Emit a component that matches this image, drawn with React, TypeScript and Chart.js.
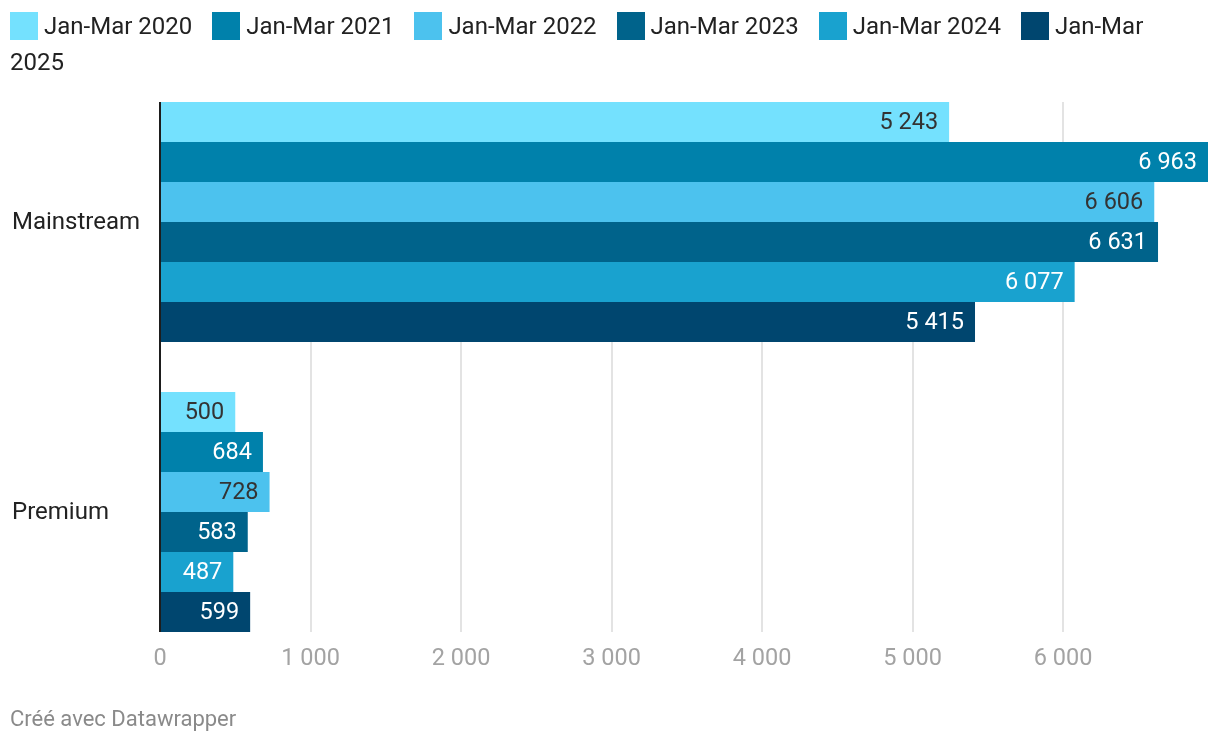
import React, { useEffect, useRef } from "react";
import { Chart, registerables } from "chart.js";

Chart.register(...registerables);

const categories = ["Mainstream", "Premium"];
const seriesLabels = ["Jan-Mar 2020", "Jan-Mar 2021", "Jan-Mar 2022", "Jan-Mar 2023", "Jan-Mar 2024", "Jan-Mar 2025"];
const mainstream = [5243, 6963, 6606, 6631, 6077, 5415];
const premium = [500, 684, 728, 583, 487, 599];
const colors = ["#74e1fe", "#0081ab", "#4cc2ee", "#00638b", "#19a2cf", "#00466f"];
const labelColors = ["#333333", "#ffffff", "#333333", "#ffffff", "#ffffff", "#ffffff"];
const xTicks = [0, 1000, 2000, 3000, 4000, 5000, 6000];
const xMax = 6963;

const FONT = "Roboto, 'Noto Sans', sans-serif";

function fmt(v: number): string {
  const s = String(Math.round(v));
  return s.replace(/\B(?=(\d{3})+(?!\d))/g, " ");
}

const drawPlugin = {
  id: "dwDraw",
  beforeDatasetsDraw(chart: any) {
    const ctx = chart.ctx;
    const x = chart.scales.x;
    const meta0 = chart.getDatasetMeta(0);
    const metaL = chart.getDatasetMeta(chart.data.datasets.length - 1);
    const top = meta0.data[0].y - meta0.data[0].height / 2;
    const bottom = metaL.data[metaL.data.length - 1].y + metaL.data[metaL.data.length - 1].height / 2;
    ctx.save();
    ctx.strokeStyle = "#e3e3e3";
    ctx.lineWidth = 2;
    for (const t of xTicks) {
      if (t === 0) continue;
      const px = Math.round(x.getPixelForValue(t));
      ctx.beginPath();
      ctx.moveTo(px, top);
      ctx.lineTo(px, bottom);
      ctx.stroke();
    }
    ctx.restore();
  },
  afterDatasetsDraw(chart: any) {
    const ctx = chart.ctx;
    const x = chart.scales.x;
    const y = chart.scales.y;
    const meta0 = chart.getDatasetMeta(0);
    const metaL = chart.getDatasetMeta(chart.data.datasets.length - 1);
    const top = meta0.data[0].y - meta0.data[0].height / 2;
    const bottom = metaL.data[metaL.data.length - 1].y + metaL.data[metaL.data.length - 1].height / 2;
    ctx.save();
    // value labels
    ctx.font = `23.5px ${FONT}`;
    ctx.textAlign = "right";
    ctx.textBaseline = "middle";
    chart.data.datasets.forEach((ds: any, i: number) => {
      const meta = chart.getDatasetMeta(i);
      meta.data.forEach((bar: any, j: number) => {
        ctx.fillStyle = labelColors[i];
        ctx.fillText(fmt(ds.data[j]), bar.x - 11, bar.y + 1);
      });
    });
    // axis line
    const x0 = x.getPixelForValue(0);
    ctx.fillStyle = "#1d1d1d";
    ctx.fillRect(x0 - 1, top, 2, bottom - top);
    // x tick labels
    ctx.fillStyle = "#a3a3a3";
    ctx.textAlign = "center";
    ctx.textBaseline = "middle";
    for (const t of xTicks) {
      ctx.fillText(fmt(t), x.getPixelForValue(t), bottom + 27);
    }
    // category labels
    ctx.font = `24px ${FONT}`;
    ctx.fillStyle = "#222222";
    ctx.textAlign = "left";
    categories.forEach((c, j) => {
      ctx.fillText(c, 12, y.getPixelForValue(j) + 1);
    });
    ctx.restore();
  },
};

export default function App() {
  const ref = useRef<HTMLCanvasElement | null>(null);
  useEffect(() => {
    if (!ref.current) return;
    const chart = new Chart(ref.current, {
      type: "bar",
      data: {
        labels: categories,
        datasets: seriesLabels.map((l, i) => ({
          label: l,
          data: [mainstream[i], premium[i]],
          backgroundColor: colors[i],
          borderWidth: 0,
          barPercentage: 1,
          categoryPercentage: 240 / 290,
        })),
      },
      options: {
        indexAxis: "y",
        responsive: false,
        animation: false,
        devicePixelRatio: 1,
        layout: { padding: { top: 77, left: 160, right: 12, bottom: 89 } },
        plugins: { legend: { display: false }, tooltip: { enabled: false } },
        scales: {
          x: { type: "linear", min: 0, max: xMax, display: false },
          y: { type: "category", display: false },
        },
      },
      plugins: [drawPlugin],
    } as any);
    return () => chart.destroy();
  }, []);

  return (
    <div>
      <canvas ref={ref} width={1220} height={746} style={{ position: "absolute", left: 0, top: 0 }} />
      <div
        style={{
          position: "absolute",
          left: 10,
          top: 8,
          width: 1170,
          fontFamily: FONT,
          fontSize: 24,
          lineHeight: "36px",
          color: "#222",
        }}
      >
        {seriesLabels.map((l, i) => (
          <React.Fragment key={l}>
            <span
              style={{
                display: "inline-block",
                width: 28,
                height: 28,
                background: colors[i],
                verticalAlign: "-6px",
                marginRight: 6,
              }}
            />
            <span style={{ marginRight: i < seriesLabels.length - 1 ? 14 : 0 }}>{l}</span>{" "}
          </React.Fragment>
        ))}
      </div>
      <div
        style={{
          position: "absolute",
          left: 10,
          top: 706,
          fontFamily: FONT,
          fontSize: 22,
          color: "#8a8a8a",
        }}
      >
        Créé avec Datawrapper
      </div>
    </div>
  );
}
